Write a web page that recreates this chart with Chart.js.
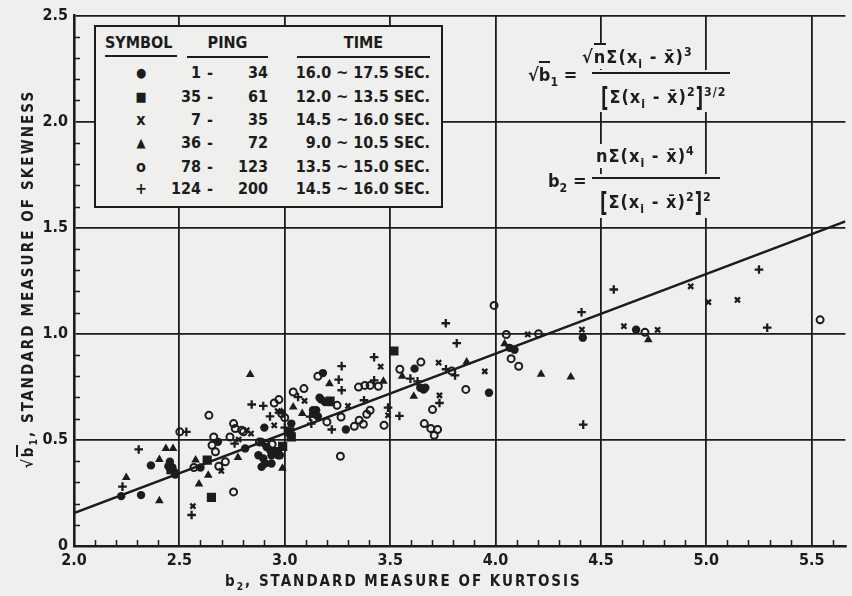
<!DOCTYPE html>
<html>
<head>
<meta charset="utf-8">
<script src="https://cdn.jsdelivr.net/npm/chart.js@4/dist/chart.umd.min.js"></script>
<style>
  html, body { margin:0; padding:0; background:#efefed; }
  #wrap { position:relative; width:852px; height:596px; overflow:hidden; background:#efefed; }
  canvas { position:absolute; left:0; top:0; }
  .t { position:absolute; font-family:"DejaVu Sans Condensed","DejaVu Sans",sans-serif; font-stretch:condensed; font-weight:bold; color:#1c1c1c; white-space:pre; line-height:1; }
  .bg { background:#efefed; }
  .ln { position:absolute; background:#1c1c1c; }
  sub, sup { font-size:0.68em; line-height:0; }
  .ov { border-top:2px solid #1c1c1c; padding-top:1px; }
  .br { display:inline-block; transform:scaleY(1.45); }
</style>
</head>
<body>
<div id="wrap">
<canvas id="c" width="852" height="596"></canvas>
</div>
<script>
// ---------------- data ----------------
const xTickValues = [2.0, 2.5, 3.0, 3.5, 4.0, 4.5, 5.0, 5.5];
const yTickValues = [0, 0.5, 1.0, 1.5, 2.0, 2.5];

const legendSymbols = ['●', '■', 'x', '▲', 'o', '+'];
const pingFrom = ['1', '35', '7', '36', '78', '124'];
const pingTo = ['34', '61', '35', '72', '123', '200'];
const timeRanges = ['16.0 ~ 17.5 SEC.', '12.0 ~ 13.5 SEC.', '14.5 ~ 16.0 SEC.', '9.0 ~ 10.5 SEC.', '13.5 ~ 15.0 SEC.', '14.5 ~ 16.0 SEC.'];

const pings1to34 = [[2.224,0.235],[2.318,0.24],[2.365,0.38],[2.455,0.397],[2.448,0.376],[2.467,0.37],[2.475,0.35],[2.48,0.337],[2.60,0.37],[2.683,0.491],[2.812,0.46],[2.89,0.49],[2.914,0.467],[2.93,0.452],[2.875,0.428],[2.898,0.413],[2.937,0.428],[2.906,0.389],[2.969,0.428],[2.89,0.373],[2.937,0.389],[2.977,0.428],[2.903,0.558],[3.031,0.577],[3.149,0.64],[3.144,0.621],[3.157,0.611],[3.134,0.64],[3.165,0.699],[3.173,0.69],[3.191,0.679],[3.181,0.815],[3.29,0.549],[3.616,0.836],[3.643,0.746],[3.659,0.737],[3.667,0.746],[3.969,0.722],[4.067,0.934],[4.09,0.925],[4.414,0.982],[4.667,1.019]];
const pings35to61 = [[2.652,0.229],[2.632,0.405],[2.46,0.36],[3.031,0.514],[3.024,0.538],[2.99,0.47],[3.518,0.919],[3.215,0.683],[2.965,0.445]];
const pings7to35 = [[2.564,0.188],[2.699,0.354],[2.781,0.502],[2.82,0.546],[2.95,0.569],[2.966,0.636],[3.094,0.684],[3.30,0.66],[3.455,0.845],[3.49,0.616],[3.73,0.864],[3.734,0.71],[3.949,0.823],[4.153,0.997],[4.41,1.02],[4.609,1.036],[4.769,1.019],[4.926,1.224],[5.01,1.149],[5.148,1.16],[2.84,0.53]];
const pings36to72 = [[2.248,0.323],[2.405,0.408],[2.436,0.46],[2.47,0.46],[2.405,0.213],[2.593,0.292],[2.637,0.334],[2.577,0.405],[2.778,0.417],[2.836,0.808],[2.985,0.632],[2.989,0.366],[3.04,0.655],[3.083,0.624],[3.212,0.765],[3.22,0.671],[3.468,0.776],[3.557,0.80],[3.612,0.706],[3.863,0.867],[4.043,0.953],[4.216,0.809],[4.357,0.797],[4.725,0.972]];
const pings78to123 = [[2.502,0.538],[2.64,0.616],[2.569,0.37],[2.655,0.475],[2.663,0.514],[2.671,0.444],[2.687,0.376],[2.718,0.397],[2.757,0.255],[2.74,0.514],[2.765,0.554],[2.757,0.577],[2.804,0.538],[2.796,0.546],[2.88,0.49],[2.91,0.48],[2.94,0.48],[2.95,0.674],[2.972,0.69],[2.985,0.624],[3.0,0.605],[3.04,0.726],[3.091,0.742],[3.157,0.80],[3.20,0.585],[3.248,0.663],[3.264,0.423],[3.267,0.608],[3.33,0.564],[3.373,0.574],[3.353,0.593],[3.389,0.621],[3.405,0.64],[3.471,0.569],[3.35,0.749],[3.38,0.757],[3.405,0.757],[3.444,0.753],[3.546,0.833],[3.646,0.867],[3.792,0.825],[3.859,0.738],[3.701,0.643],[3.662,0.577],[3.693,0.554],[3.725,0.549],[3.709,0.522],[3.993,1.134],[4.051,0.997],[4.204,1.0],[4.074,0.883],[4.11,0.847],[4.709,1.007],[5.54,1.066]];
const pings124to200 = [[2.23,0.28],[2.307,0.455],[2.533,0.538],[2.558,0.146],[2.762,0.483],[2.843,0.667],[2.898,0.66],[2.93,0.611],[3.0,0.558],[3.063,0.702],[3.12,0.61],[3.126,0.577],[3.223,0.549],[3.256,0.784],[3.27,0.734],[3.27,0.848],[3.376,0.687],[3.424,0.89],[3.424,0.781],[3.49,0.652],[3.544,0.613],[3.596,0.789],[3.63,0.776],[3.734,0.674],[3.765,0.833],[3.808,0.804],[3.764,1.05],[3.816,0.956],[4.408,1.102],[4.416,0.572],[4.561,1.209],[5.25,1.303],[5.289,1.029]];

const fitLineX = [2.0, 5.66];
const fitLineY = [0.155, 1.53];

// ---------------- drawing ----------------
const INK = '#1c1c1c';
const BG = '#efefed';
const FONT = '"DejaVu Sans Condensed", "DejaVu Sans", sans-serif';
const pts = a => a.map(p => ({x: p[0], y: p[1]}));

const minorTicks = {
  id: 'minorTicks',
  beforeDatasetsDraw(chart) {
    const {ctx, chartArea: a, scales: {x, y}} = chart;
    ctx.save();
    ctx.strokeStyle = INK;
    ctx.lineWidth = 1.5;
    ctx.beginPath();
    for (let i = 20; i <= 56; i++) {
      if (i % 5 === 0) continue;
      const px = Math.round(x.getPixelForValue(i / 10)) + 0.5;
      ctx.moveTo(px, a.bottom); ctx.lineTo(px, a.bottom - 6);
    }
    for (let i = 0; i <= 25; i++) {
      if (i % 5 === 0) continue;
      const py = Math.round(y.getPixelForValue(i / 10)) + 0.5;
      ctx.moveTo(a.left, py); ctx.lineTo(a.left + 6, py);
    }
    ctx.stroke();
    ctx.restore();
  }
};

const tickFont = {family: FONT, size: 16, weight: 'bold'};

new Chart(document.getElementById('c'), {
  type: 'scatter',
  data: {
    datasets: [
      {label: 'fit', type: 'line', data: fitLineX.map((v, i) => ({x: v, y: fitLineY[i]})), borderColor: INK, borderWidth: 2.6, pointRadius: 0, fill: false, order: 10},
      {label: '1 - 34', data: pts(pings1to34), pointStyle: 'circle', pointRadius: 4.2, backgroundColor: INK, borderColor: INK, borderWidth: 0},
      {label: '35 - 61', data: pts(pings35to61), pointStyle: 'rect', pointRadius: 6.5, backgroundColor: INK, borderColor: INK, borderWidth: 0},
      {label: '7 - 35', data: pts(pings7to35), pointStyle: 'crossRot', pointRadius: 3.6, borderColor: INK, borderWidth: 2.3},
      {label: '36 - 72', data: pts(pings36to72), pointStyle: 'triangle', pointRadius: 5, backgroundColor: INK, borderColor: INK, borderWidth: 0},
      {label: '78 - 123', data: pts(pings78to123), pointStyle: 'circle', pointRadius: 3.5, backgroundColor: 'rgba(0,0,0,0)', borderColor: INK, borderWidth: 2},
      {label: '124 - 200', data: pts(pings124to200), pointStyle: 'cross', pointRadius: 4.3, borderColor: INK, borderWidth: 2.3}
    ]
  },
  options: {
    responsive: false,
    animation: false,
    devicePixelRatio: 1,
    layout: {padding: {top: 15, right: 0, bottom: 0, left: 0}},
    plugins: {legend: {display: false}, tooltip: {enabled: false}},
    scales: {
      x: {
        type: 'linear', min: 2.0, max: 5.66,
        afterBuildTicks: s => { s.ticks = xTickValues.map(v => ({value: v})); },
        afterFit: s => { s.height = 50; },
        grid: {color: INK, lineWidth: 1.8, drawTicks: false},
        border: {color: INK, width: 2.6},
        ticks: {padding: 5, color: INK, font: tickFont, callback: v => Number(v).toFixed(1)}
      },
      y: {
        type: 'linear', min: 0, max: 2.5,
        afterBuildTicks: s => { s.ticks = yTickValues.map(v => ({value: v})); },
        afterFit: s => { s.width = 74; },
        grid: {color: INK, lineWidth: 1.8, drawTicks: false},
        border: {color: INK, width: 2.6},
        ticks: {padding: 6, color: INK, font: tickFont, callback: v => (v === 0 ? '0' : Number(v).toFixed(1))}
      }
    }
  },
  plugins: [minorTicks]
});

// ---------------- overlays (legend table, formulas, axis titles) ----------------
const wrap = document.getElementById('wrap');
function el(cls, html, css) {
  const d = document.createElement('div');
  d.className = cls;
  d.innerHTML = html;
  Object.assign(d.style, css);
  wrap.appendChild(d);
  return d;
}
// legend box
el('bg', '', {position: 'absolute', left: '94px', top: '25px', width: '349px', height: '183px', boxSizing: 'border-box', border: '2px solid ' + INK});
const rowY = [73, 97, 120, 143, 167, 189];
const LF = '16px';
el('t', 'SYMBOL', {left: '105px', top: '35px', fontSize: LF});
el('ln', '', {left: '105px', top: '55px', width: '72px', height: '2px'});
el('t', 'PING', {left: '187px', top: '35px', width: '81px', textAlign: 'center', fontSize: LF});
el('ln', '', {left: '187px', top: '56px', width: '81px', height: '2px'});
el('t', 'TIME', {left: '297px', top: '35px', width: '133px', textAlign: 'center', fontSize: LF});
el('ln', '', {left: '297px', top: '56px', width: '133px', height: '2px'});
legendSymbols.forEach((s, i) => {
  const top = (rowY[i] - 8) + 'px';
  el('t', s, {left: '129px', top, width: '24px', textAlign: 'center', fontSize: (s === '●' || s === '■' || s === '▲') ? '13px' : LF, lineHeight: '16px'});
  el('t', pingFrom[i], {left: '160px', top, width: '41px', textAlign: 'right', fontSize: LF});
  el('t', '-', {left: '204px', top, width: '12px', textAlign: 'center', fontSize: LF});
  el('t', pingTo[i], {left: '220px', top, width: '48px', textAlign: 'right', fontSize: LF});
  el('t', timeRanges[i], {left: '270px', top, width: '160px', textAlign: 'right', fontSize: LF});
});

// formulas
const FF = '18px';
const LS = '1px';
el('t bg', '√<span class="ov">b</span><sub>1</sub> = ', {left: '526px', top: '64px', fontSize: FF, padding: '2px'});
el('t bg', '√<span class="ov">n</span>Σ(x<sub>i</sub> - x̄)<sup>3</sup>', {left: '580px', top: '45px', fontSize: FF, letterSpacing: LS, padding: '3px 2px'});
el('bg', '', {position: 'absolute', left: '590px', top: '70px', width: '142px', height: '42px'});
el('ln', '', {left: '592px', top: '72px', width: '138px', height: '2px'});
el('t', '<span class="br">[</span>Σ(x<sub>i</sub> - x̄)<sup>2</sup><span class="br">]</span><sup>3/2</sup>', {left: '601px', top: '88px', fontSize: FF, letterSpacing: LS});

el('t bg', 'b<sub>2</sub> = ', {left: '546px', top: '170px', fontSize: FF, padding: '2px'});
el('t bg', 'nΣ(x<sub>i</sub> - x̄)<sup>4</sup>', {left: '594px', top: '144px', fontSize: FF, letterSpacing: LS, padding: '3px 2px'});
el('bg', '', {position: 'absolute', left: '590px', top: '174px', width: '132px', height: '44px'});
el('ln', '', {left: '592px', top: '177px', width: '128px', height: '2px'});
el('t', '<span class="br">[</span>Σ(x<sub>i</sub> - x̄)<sup>2</sup><span class="br">]</span><sup>2</sup>', {left: '600px', top: '193px', fontSize: FF, letterSpacing: LS});

// axis titles
el('t', 'b<sub>2</sub>, STANDARD MEASURE OF KURTOSIS', {left: '225px', top: '574px', width: '370px', fontSize: '15px', letterSpacing: '2px'});
el('t', '√<span class="ov">b</span><sub>1</sub>, STANDARD MEASURE OF SKEWNESS', {left: '-220px', top: '270px', width: '500px', height: '18px', textAlign: 'center', fontSize: '15px', letterSpacing: '2.1px', transform: 'rotate(-90deg)'});
</script>
</body>
</html>
